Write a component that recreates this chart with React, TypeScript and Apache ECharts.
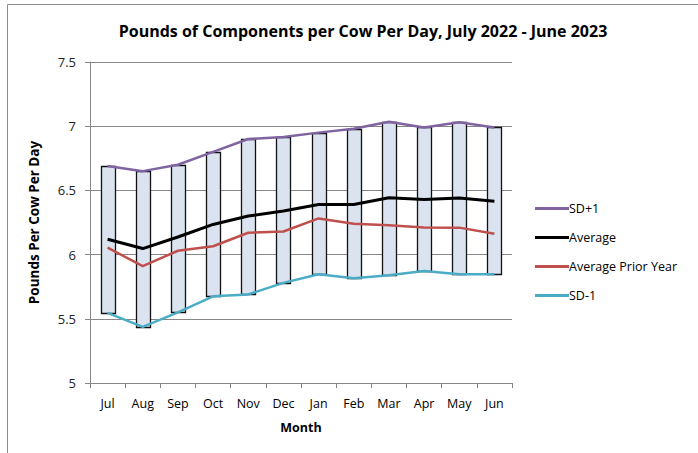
import React, { useEffect, useRef } from "react";
import * as echarts from "echarts";

const months = ["Jul", "Aug", "Sep", "Oct", "Nov", "Dec", "Jan", "Feb", "Mar", "Apr", "May", "Jun"];
const sdPlus1 = [6.69, 6.65, 6.70, 6.80, 6.90, 6.915, 6.95, 6.98, 7.035, 6.99, 7.03, 6.99];
const average = [6.12, 6.047, 6.137, 6.235, 6.30, 6.34, 6.39, 6.39, 6.443, 6.43, 6.44, 6.415];
const averagePriorYear = [6.054, 5.91, 6.03, 6.065, 6.17, 6.18, 6.282, 6.24, 6.228, 6.212, 6.21, 6.163];
const sdMinus1 = [5.546, 5.437, 5.55, 5.675, 5.69, 5.78, 5.847, 5.816, 5.84, 5.873, 5.847, 5.847];
const yTicks = { min: 5, max: 7.5, interval: 0.5 };

const FONT = "Open Sans";

export default function App() {
  const ref = useRef<HTMLDivElement>(null);
  useEffect(() => {
    if (!ref.current) return;
    const chart = echarts.init(ref.current, undefined, { renderer: "svg" });
    const rangeData = months.map((_, i) => [i, sdMinus1[i], sdPlus1[i]]);
    chart.setOption({
      animation: false,
      backgroundColor: "#ffffff",
      textStyle: { fontFamily: FONT },
      title: {
        text: "Pounds of Components per Cow Per Day, July 2022 - June 2023",
        left: 358,
        textAlign: "center",
        top: 18,
        textStyle: { fontFamily: FONT, fontSize: 16, fontWeight: "bold", color: "#000000" },
      },
      graphic: [
        {
          type: "rect",
          shape: { x: 7.5, y: 4.5, width: 720, height: 480 },
          style: { fill: "none", stroke: "#8c8c8c", lineWidth: 1 },
          silent: true,
        },
      ],
      legend: {
        orient: "vertical",
        left: 530,
        top: 197,
        itemWidth: 34,
        itemHeight: 3,
        itemGap: 16,
        icon: "rect",
        data: ["SD+1", "Average", "Average Prior Year", "SD-1"],
        textStyle: { fontFamily: FONT, fontSize: 12.5, color: "#000000", padding: [0, 0, 0, -5] },
      },
      grid: { left: 90, right: 186, top: 62, bottom: 70 },
      xAxis: {
        type: "category",
        data: months,
        boundaryGap: true,
        name: "Month",
        nameLocation: "middle",
        nameGap: 38,
        nameTextStyle: { fontFamily: FONT, fontSize: 12.5, fontWeight: "bold", color: "#000000" },
        axisLine: { lineStyle: { color: "#868686", width: 1 } },
        axisTick: { show: true, interval: 0, alignWithLabel: false, length: 5, lineStyle: { color: "#868686" } },
        axisLabel: { interval: 0, margin: 14, fontSize: 12.5, color: "#000000" },
      },
      yAxis: {
        type: "value",
        min: yTicks.min,
        max: yTicks.max,
        interval: yTicks.interval,
        name: "Pounds Per Cow Per Day",
        nameLocation: "middle",
        nameGap: 49,
        nameTextStyle: { fontFamily: FONT, fontSize: 13.5, fontWeight: "bold", color: "#000000" },
        axisLine: { show: true, lineStyle: { color: "#868686", width: 1 } },
        axisTick: { show: true, length: 5, lineStyle: { color: "#868686" } },
        axisLabel: { margin: 14, fontSize: 13, color: "#222222", formatter: (v: number) => String(v) },
        splitLine: { show: true, lineStyle: { color: "#868686", width: 1 } },
      },
      series: [
        {
          type: "custom",
          name: "Range",
          z: 1,
          renderItem: (params: any, api: any) => {
            const i = api.value(0);
            const lo = api.coord([i, api.value(1)]);
            const hi = api.coord([i, api.value(2)]);
            const w = 14;
            return {
              type: "rect",
              shape: { x: Math.round(lo[0] - w / 2) + 0.5, y: Math.round(hi[1]) + 0.5, width: w, height: Math.round(lo[1]) - Math.round(hi[1]) },
              style: { fill: "#dae3ef", stroke: "#111111", lineWidth: 1.3 },
            };
          },
          encode: { x: 0, y: [1, 2] },
          data: rangeData,
        },
        {
          type: "line",
          name: "SD+1",
          data: sdPlus1,
          symbol: "none",
          z: 3,
          color: "#8064a2",
          lineStyle: { color: "#8064a2", width: 2.5 },
        },
        {
          type: "line",
          name: "Average",
          data: average,
          symbol: "none",
          z: 4,
          color: "#000000",
          lineStyle: { color: "#000000", width: 3 },
        },
        {
          type: "line",
          name: "Average Prior Year",
          data: averagePriorYear,
          symbol: "none",
          z: 3,
          color: "#c0504d",
          lineStyle: { color: "#c0504d", width: 2.5 },
        },
        {
          type: "line",
          name: "SD-1",
          data: sdMinus1,
          symbol: "none",
          z: 3,
          color: "#4bacc6",
          lineStyle: { color: "#4bacc6", width: 2.5 },
        },
      ],
    });
    return () => chart.dispose();
  }, []);
  return <div ref={ref} style={{ position: "fixed", left: 0, top: 0, width: 698, height: 453 }} />;
}
